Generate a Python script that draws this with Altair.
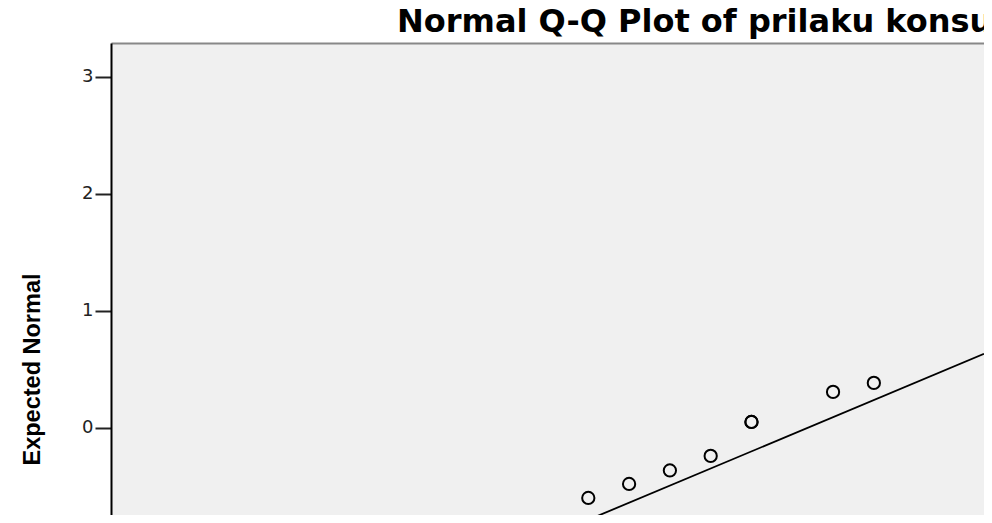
import altair as alt
import pandas as pd

observed = [40, 41, 42, 43, 44, 45, 45, 47, 48]
expected = [-0.812, -0.598, -0.479, -0.363, -0.239, 0.051, 0.051, 0.308, 0.385]

# Reference line: expected = (observed - mean) / sd
mean_val = 46.37
sd_val = 6.84
line_x = [29.3, 50.7]

title_text = ["Normal Q-Q Plot of prilaku konsumen"]

points_df = pd.DataFrame({"Observed Value": observed, "Expected Normal": expected})
line_df = pd.DataFrame({
    "Observed Value": line_x,
    "Expected Normal": [(v - mean_val) / sd_val for v in line_x],
})
title_df = pd.DataFrame({"title": title_text})

x_scale = alt.Scale(domain=[29.3, 50.7], nice=False, zero=False)
y_scale = alt.Scale(domain=[-0.744, 3.29], nice=False, zero=False)

# top frame line of the plot (the bottom x axis lies outside the cropped picture)
x_axis = alt.Axis(
    orient="top", title=None, labels=False, ticks=False, grid=False,
    domainColor="#888888", domainWidth=2,
)
y_axis = alt.Axis(
    title="Expected Normal",
    values=[0, 1, 2, 3],
    format="d",
    grid=False,
    domainColor="#000000",
    domainWidth=2,
    tickColor="#222222",
    tickWidth=2,
    tickSize=16,
    labelPadding=2,
    labelFont="DejaVu Sans",
    labelFontSize=18,
    labelColor="#222222",
    titleFont="Liberation Sans",
    titleFontWeight="bold",
    titleFontSize=23.5,
    titleColor="#000000",
    titleAngle=-90,
    titleAlign="center",
    titleBaseline="alphabetic",
    titleX=-72,
    titleY=326,
)

line = alt.Chart(line_df).mark_line(color="black", strokeWidth=1.8, clip=True).encode(
    x=alt.X("Observed Value:Q", scale=x_scale, axis=x_axis),
    y=alt.Y("Expected Normal:Q", scale=y_scale, axis=y_axis),
)

pts = alt.Chart(points_df).mark_point(
    shape="circle", filled=False, color="black", strokeWidth=2, size=150, opacity=1, clip=True
).encode(
    x=alt.X("Observed Value:Q", scale=x_scale),
    y=alt.Y("Expected Normal:Q", scale=y_scale),
)

title_mark = alt.Chart(title_df).mark_text(
    align="left",
    baseline="alphabetic",
    font="DejaVu Sans",
    fontSize=32,
    fontWeight="bold",
    color="#000000",
    clip=False,
).encode(
    text="title:N",
    x=alt.value(286),
    y=alt.value(-11),
)

chart = (
    alt.layer(line, pts, title_mark)
    .properties(
        width=873,
        height=472,
        autosize=alt.AutoSizeParams(type="none"),
        padding={"left": 103, "top": 35, "right": 0, "bottom": 0},
        background="#ffffff",
    )
    .configure_view(fill="#f0f0f0", strokeWidth=0)
)

chart.save("out.html", embed_options={"renderer": "svg", "actions": False})
